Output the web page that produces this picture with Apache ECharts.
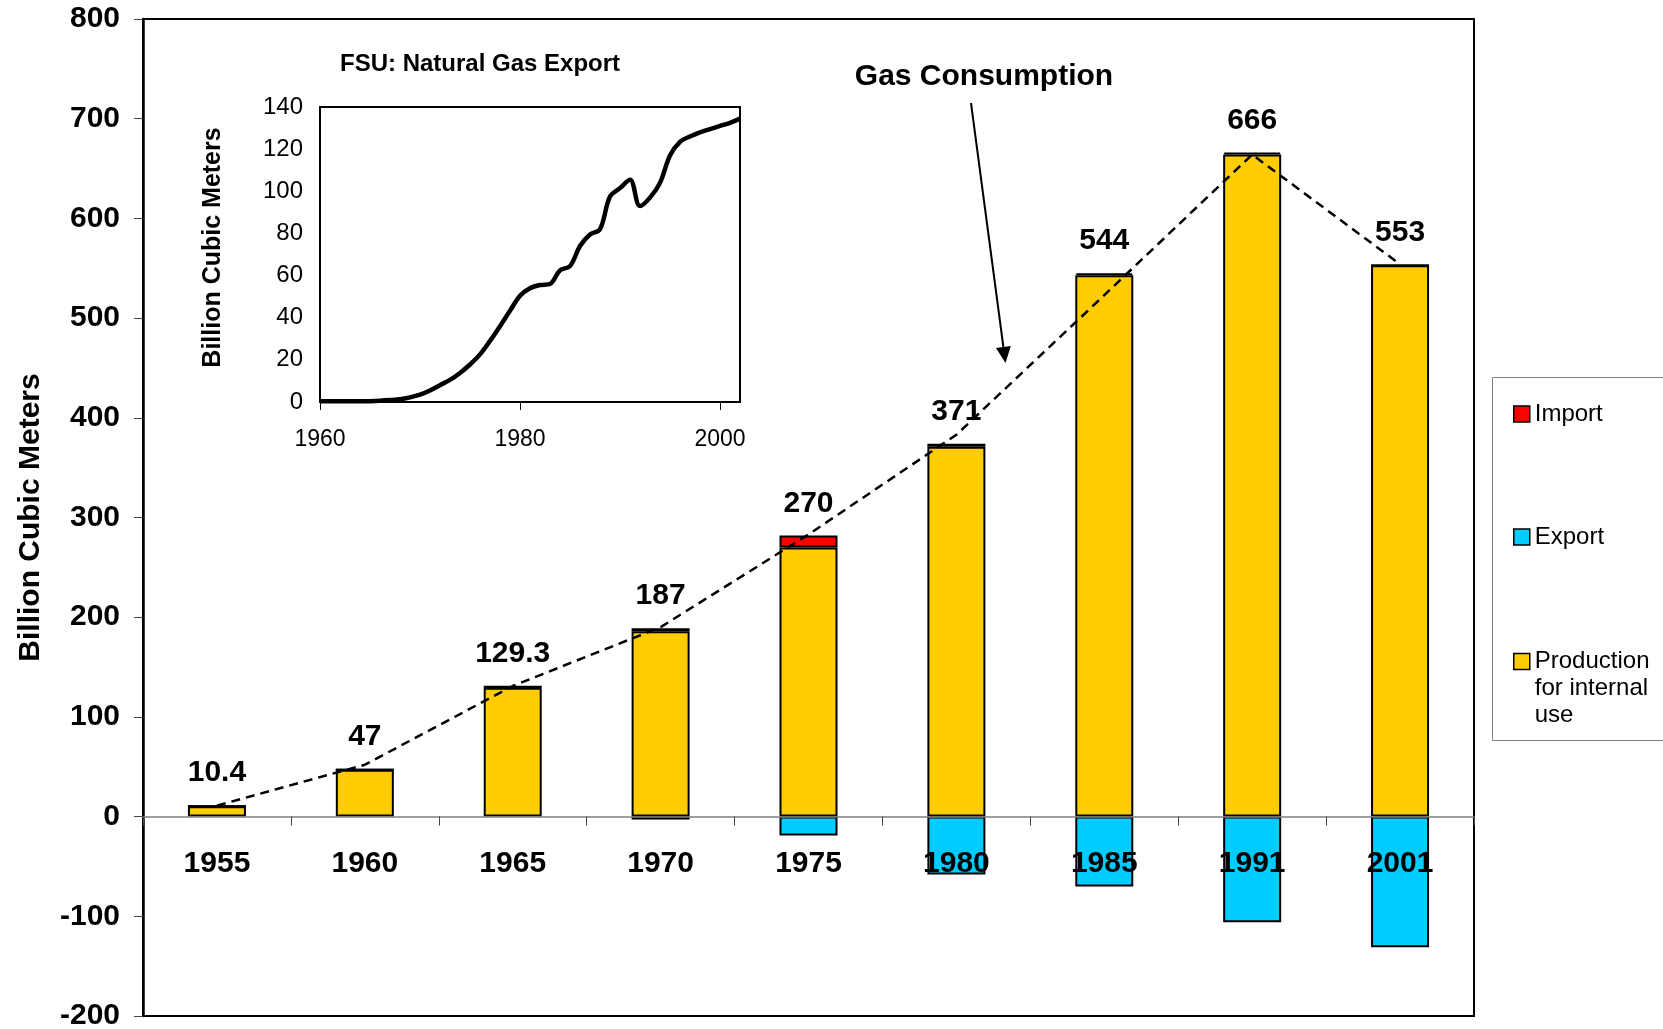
<!DOCTYPE html>
<html>
<head>
<meta charset="utf-8">
<script src="https://cdn.jsdelivr.net/npm/echarts@6/dist/echarts.min.js"></script>
<style>
html,body{margin:0;padding:0;background:#ffffff;}
#chart{width:1663px;height:1029px;}
</style>
</head>
<body>
<div id="chart"></div>
<script>
// ---- Main chart data ----
const years = ['1955', '1960', '1965', '1970', '1975', '1980', '1985', '1991', '2001'];
const production = [10.4, 47, 129.3, 186, 270, 371, 543, 664, 553];
const imports = [0, 0, 1, 3, 12, 3, 2, 2, 0];
const exportsNeg = [0, 0, 0, -3, -19, -58, -70, -106, -131];
const consumptionLine = [11, 52, 131, 190, 283, 383, 523, 664, 554];
const consumptionLabels = ['10.4', '47', '129.3', '187', '270', '371', '544', '666', '553'];
const yMin = -200, yMax = 800, yStep = 100;

// ---- Inset data: FSU natural gas export ----
const insetYears = [1960, 1961, 1962, 1963, 1964, 1965, 1966, 1967, 1968, 1969,
  1970, 1971, 1972, 1973, 1974, 1975, 1976, 1977, 1978, 1979,
  1980, 1981, 1982, 1983, 1984, 1985, 1986, 1987, 1988, 1989,
  1990, 1991, 1992, 1993, 1994, 1995, 1996, 1997, 1998, 1999,
  2000, 2001, 2002];
const insetExport = [0.3, 0.3, 0.3, 0.3, 0.3, 0.4, 0.6, 0.9, 1.3, 2.2,
  3.5, 5.5, 8, 10.5, 13.8, 17.8, 22.6, 29, 36, 43.3,
  50.4, 54, 55.5, 56, 62.5, 64.5, 74, 79.5, 82, 97.5,
  101.5, 105.5, 93, 97, 104, 117, 123.5, 126, 128, 129.5,
  131, 132.5, 134.5];

const FONT = '"Liberation Sans", Arial, Helvetica, sans-serif';
const GRID_H = 997;
// category axis drawn through the zero value of the y axis
const zeroOffset = -GRID_H * (0 - yMin) / (yMax - yMin);

const chart = echarts.init(document.getElementById('chart'), null, {renderer: 'canvas'});

const option = {
  animation: false,
  backgroundColor: '#ffffff',
  textStyle: {fontFamily: FONT, color: '#000'},
  grid: [
    {left: 143, top: 19, width: 1331, height: GRID_H, show: true, borderColor: '#000', borderWidth: 2,
     backgroundColor: 'transparent', containLabel: false, outerBoundsMode: 'none'},
    {left: 320, top: 107, width: 420, height: 295, show: true, borderColor: '#000', borderWidth: 2,
     backgroundColor: '#fff', containLabel: false, outerBoundsMode: 'none'}
  ],
  legend: [
    {
      orient: 'vertical', left: 1513, top: 402, padding: 0,
      itemWidth: 16, itemHeight: 16, itemGap: 99, icon: 'rect',
      selectedMode: false,
      itemStyle: {borderColor: '#000', borderWidth: 1.5},
      textStyle: {fontFamily: FONT, fontSize: 24, color: '#000'},
      data: ['Import', 'Export']
    },
    {
      orient: 'vertical', left: 1513, top: 594, padding: 0,
      itemWidth: 16, itemHeight: 16, icon: 'rect',
      selectedMode: false,
      itemStyle: {borderColor: '#000', borderWidth: 1.5},
      textStyle: {fontFamily: FONT, fontSize: 24, color: '#000', lineHeight: 27},
      // two leading blank lines keep the marker level with the first text line
      formatter: function (name) { return name === 'Production for internal use' ? '\n\nProduction\nfor internal\nuse' : name; },
      data: ['Production for internal use']
    }
  ],
  xAxis: [
    {
      type: 'category', gridIndex: 0, data: years, z: 5,
      position: 'bottom', offset: zeroOffset,
      axisLine: {show: true, onZero: false, lineStyle: {color: '#808080', width: 1.5}},
      axisTick: {show: true, inside: false, length: 9, alignWithLabel: false, lineStyle: {color: '#444', width: 1}},
      axisLabel: {fontFamily: FONT, fontSize: 30, fontWeight: 'bold', color: '#000', margin: 32, interval: 0},
      splitLine: {show: false}
    },
    {
      type: 'value', gridIndex: 1, min: 1960, max: 2002, interval: 20,
      axisLine: {show: true, onZero: false, lineStyle: {color: '#000', width: 2}},
      axisTick: {show: true, inside: false, length: 8, lineStyle: {color: '#000', width: 1}},
      axisLabel: {fontFamily: FONT, fontSize: 23, color: '#000', margin: 26, showMaxLabel: false,
                  formatter: function (v) { return String(v); }},
      splitLine: {show: false}
    }
  ],
  yAxis: [
    {
      type: 'value', gridIndex: 0, min: yMin, max: yMax, interval: yStep,
      axisLine: {show: true, onZero: false, lineStyle: {color: '#000', width: 2.5}},
      axisTick: {show: true, inside: false, length: 9, lineStyle: {color: '#444', width: 1}},
      axisLabel: {fontFamily: FONT, fontSize: 30, fontWeight: 'bold', color: '#000', margin: 23,
                  showMinLabel: true, showMaxLabel: true},
      splitLine: {show: false},
      name: 'Billion Cubic Meters', nameLocation: 'middle', nameGap: 97, nameRotate: 90,
      nameMoveOverlap: false,
      nameTextStyle: {fontFamily: FONT, fontSize: 30, fontWeight: 'bold', color: '#000'}
    },
    {
      type: 'value', gridIndex: 1, min: 0, max: 140, interval: 20,
      axisLine: {show: true, onZero: false, lineStyle: {color: '#000', width: 2}},
      axisTick: {show: false},
      axisLabel: {fontFamily: FONT, fontSize: 24, color: '#000', margin: 17,
                  showMinLabel: true, showMaxLabel: true},
      splitLine: {show: false},
      name: 'Billion Cubic Meters', nameLocation: 'middle', nameGap: 94, nameRotate: 90,
      nameMoveOverlap: false,
      nameTextStyle: {fontFamily: FONT, fontSize: 25, fontWeight: 'bold', color: '#000', padding: [0, 0, 0, 14]}
    }
  ],
  series: [
    {
      name: 'Production for internal use', type: 'bar', stack: 'total',
      xAxisIndex: 0, yAxisIndex: 0, barWidth: 58, data: production,
      itemStyle: {color: '#FFCC00', borderColor: '#000', borderWidth: 2}
    },
    {
      name: 'Import', type: 'bar', stack: 'total',
      xAxisIndex: 0, yAxisIndex: 0, barWidth: 58, data: imports,
      itemStyle: {color: '#FF0000', borderColor: '#000', borderWidth: 2},
      label: {
        show: true, position: 'top', distance: 17,
        fontFamily: FONT, fontSize: 30, fontWeight: 'bold', color: '#000',
        formatter: function (p) { return consumptionLabels[p.dataIndex]; }
      }
    },
    {
      name: 'Export', type: 'bar', stack: 'total',
      xAxisIndex: 0, yAxisIndex: 0, barWidth: 58, data: exportsNeg,
      itemStyle: {color: '#00CCFF', borderColor: '#000', borderWidth: 2}
    },
    {
      name: 'Gas Consumption', type: 'line', xAxisIndex: 0, yAxisIndex: 0,
      data: consumptionLine, symbol: 'none', z: 4,
      lineStyle: {color: '#000', width: 2.5, type: [9, 6]}
    },
    {
      name: 'FSU: Natural Gas Export', type: 'line', xAxisIndex: 1, yAxisIndex: 1,
      data: insetYears.map(function (y, i) { return [y, insetExport[i]]; }),
      symbol: 'none', smooth: 0.35,
      lineStyle: {color: '#000', width: 4.5}
    }
  ],
  graphic: [
    {type: 'rect', shape: {x: 1492.5, y: 377.5, width: 200, height: 363},
     style: {fill: 'none', stroke: '#808080', lineWidth: 1}, silent: true},
    {type: 'text', x: 984, y: 77,
     style: {text: 'Gas Consumption', font: 'bold 30px ' + FONT, fill: '#000', align: 'center', verticalAlign: 'middle'}},
    {type: 'line', shape: {x1: 971, y1: 103, x2: 1003.4, y2: 347}, style: {stroke: '#000', lineWidth: 2}},
    {type: 'polygon', shape: {points: [[1005.5, 363], [1010.8, 346.1], [996.0, 348.1]]}, style: {fill: '#000'}},
    {type: 'text', x: 480, y: 64,
     style: {text: 'FSU: Natural Gas Export', font: 'bold 24px ' + FONT, fill: '#000', align: 'center', verticalAlign: 'middle'}}
  ]
};
chart.setOption(option);
</script>
</body>
</html>
